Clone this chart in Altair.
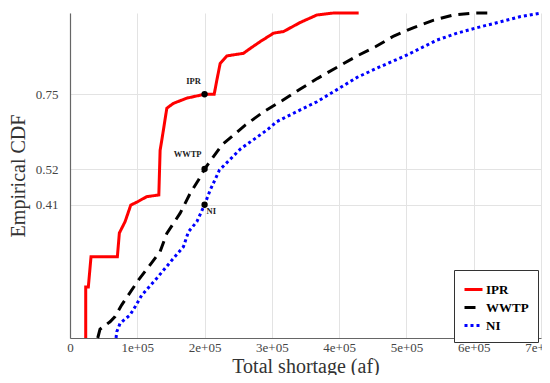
import altair as alt
import pandas as pd

series = ["IPR", "WWTP", "NI"]
colors = ["#ff0000", "#000000", "#0000ff"]
dashes = [[1, 0], [11, 7], [3, 3]]

ipr_x = [23360, 23360, 27230, 31250, 70390, 73360, 81850, 90330, 100150, 114140,
         132000, 133930, 136460, 143900, 153720, 173660, 200000, 214290, 218300,
         223210, 233180, 257890, 267860, 282740, 302530, 317410, 342260, 367110,
         391820, 429020]
ipr_y = [0, 0.157, 0.157, 0.250, 0.250, 0.323, 0.358, 0.409, 0.419, 0.435,
         0.44, 0.578, 0.609, 0.707, 0.722, 0.738, 0.75, 0.75, 0.794,
         0.845, 0.868, 0.876, 0.891, 0.912, 0.938, 0.943, 0.971, 0.994,
         1.0, 1.0]

wwtp_x = [41220, 44640, 59520, 66960, 76930, 101640, 119050, 133930, 143900,
          163690, 178570, 190920, 200000, 225740, 260420, 287650, 315030,
          342260, 368010, 394350, 426640, 453870, 481100, 510860, 540630,
          570390, 602680, 625000]
wwtp_y = [0, 0.027, 0.050, 0.066, 0.102, 0.178, 0.225, 0.266, 0.322,
          0.384, 0.445, 0.486, 0.52, 0.594, 0.655, 0.696, 0.730,
          0.766, 0.799, 0.830, 0.868, 0.896, 0.929, 0.955, 0.978,
          0.994, 1.0, 1.0]

ni_x = [68450, 69490, 74400, 89290, 96730, 106700, 129020, 153720, 168600,
        176040, 188540, 200000, 208330, 222170, 252980, 292710, 307590,
        342260, 367110, 391820, 426640, 461310, 501040, 545680, 575440,
        605210, 639880, 669640, 700000]
ni_y = [0, 0.019, 0.045, 0.071, 0.096, 0.132, 0.184, 0.245, 0.281,
        0.327, 0.358, 0.41, 0.455, 0.517, 0.581, 0.640, 0.666,
        0.702, 0.727, 0.758, 0.802, 0.835, 0.871, 0.917, 0.938,
        0.955, 0.973, 0.989, 1.0]

marker_x = [200000, 200000, 200000]
marker_y = [0.75, 0.52, 0.41]

x_ticks = [0, 100000, 200000, 300000, 400000, 500000, 600000, 700000]
y_ticks = [0.41, 0.52, 0.75]

rows = []
for name, xs, ys in [("IPR", ipr_x, ipr_y), ("WWTP", wwtp_x, wwtp_y), ("NI", ni_x, ni_y)]:
    for i, (xv, yv) in enumerate(zip(xs, ys)):
        rows.append({"series": name, "x": xv, "y": yv, "order": i})
lines_df = pd.DataFrame(rows)
markers_df = pd.DataFrame({"series": series, "x": marker_x, "y": marker_y})

serif = "Liberation Serif"

x_enc = alt.X("x:Q", scale=alt.Scale(domain=[0, 700000], nice=False),
              axis=alt.Axis(values=x_ticks, title="Total shortage (af)",
                            labelExpr="datum.value == 0 ? '0' : (datum.value / 100000) + 'e+05'",
                            labelFlush=False, labelOverlap=False,
                            labelPadding=3, titlePadding=2))
y_enc = alt.Y("y:Q", scale=alt.Scale(domain=[0, 1], nice=False),
              axis=alt.Axis(values=y_ticks, title="Empirical CDF", format=".2f",
                            labelFlush=False, labelOverlap=False,
                            labelPadding=12, titlePadding=7))

legend = alt.Legend(orient="none", legendX=384, legendY=257,
                    title=None, symbolType="stroke", symbolSize=324,
                    symbolStrokeWidth=3, labelFont=serif,
                    labelFontSize=13, labelFontWeight="bold",
                    labelColor="#000000", strokeColor="#333333",
                    fillColor="#ffffff", padding=9, rowPadding=0,
                    labelOffset=2)

lines = alt.Chart(lines_df).mark_line(strokeWidth=3, interpolate="linear").encode(
    x=x_enc,
    y=y_enc,
    order="order:Q",
    color=alt.Color("series:N", scale=alt.Scale(domain=series, range=colors), legend=legend),
    strokeDash=alt.StrokeDash("series:N", scale=alt.Scale(domain=series, range=dashes), legend=legend),
)

points = alt.Chart(markers_df).mark_circle(size=40, color="black", opacity=1).encode(
    x=x_enc, y=y_enc
)

label_offsets = {"IPR": (-11, -13, "center"), "WWTP": (-17, -15, "center"), "NI": (2, 6, "left")}
texts = []
for name in series:
    dx, dy, al = label_offsets[name]
    texts.append(
        alt.Chart(markers_df).transform_filter(alt.datum.series == name)
        .mark_text(font=serif, fontSize=8.5, fontWeight="bold", color="#222222",
                   dx=dx, dy=dy, align=al, baseline="middle")
        .encode(x=x_enc, y=y_enc, text="series:N")
    )

chart = alt.layer(lines, points, *texts).properties(
    width=471, height=325,
    padding={"left": 62, "top": 5, "right": 1, "bottom": 37},
    autosize=alt.AutoSizeParams(type="none"),
).configure_view(stroke=None).configure_axis(
    grid=True, gridColor="#e3e3e3", gridWidth=1,
    domainColor="#666666", domainWidth=1.2, ticks=False,
    labelFont=serif, labelFontSize=13, labelColor="#444444",
    titleFont=serif, titleFontSize=20, titleFontWeight="normal", titleColor="#333333",
)

chart.save("out.html", embed_options={"renderer": "svg", "actions": False})
